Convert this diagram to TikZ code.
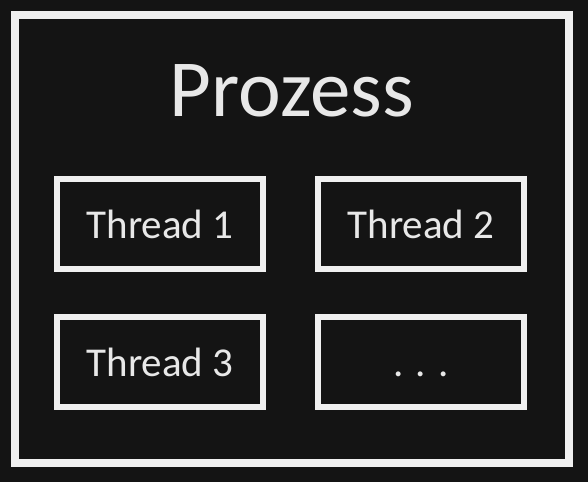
\documentclass[tikz,border=0pt]{standalone}
\usepackage{fontspec}
\setmainfont{Carlito}
\definecolor{bg}{HTML}{141414}
\definecolor{fg}{HTML}{F0F0F0}
\definecolor{txt}{HTML}{E8E8E8}
\begin{document}
\begin{tikzpicture}[x=1pt,y=-1pt,
  frame/.style={draw=fg, line width=8pt, inner sep=0pt, outer sep=0pt,
    minimum width=554pt, minimum height=448pt},
  threadbox/.style={draw=fg, line width=6.5pt, inner sep=0pt, outer sep=0pt,
    minimum width=206pt, minimum height=90pt, text=txt,
    font=\fontsize{41}{48}\selectfont},
  title/.style={text=txt, inner sep=0pt, font=\fontsize{81}{90}\selectfont}]
\fill[bg] (0,0) rectangle (588,482);
\useasboundingbox (0,0) rectangle (588,482);
\node[frame] (proc) at (292,239) {};
\node[title] (name) at (292,91) {Prozess};
\node[threadbox] (t1) at (160,224) {Thread 1};
\node[threadbox] (t2) at (421,224) {Thread 2};
\node[threadbox] (t3) at (160,362) {Thread 3};
\node[threadbox] (t4) at (421,362) {\vphantom{Thread}. . .};
\end{tikzpicture}
\end{document}
